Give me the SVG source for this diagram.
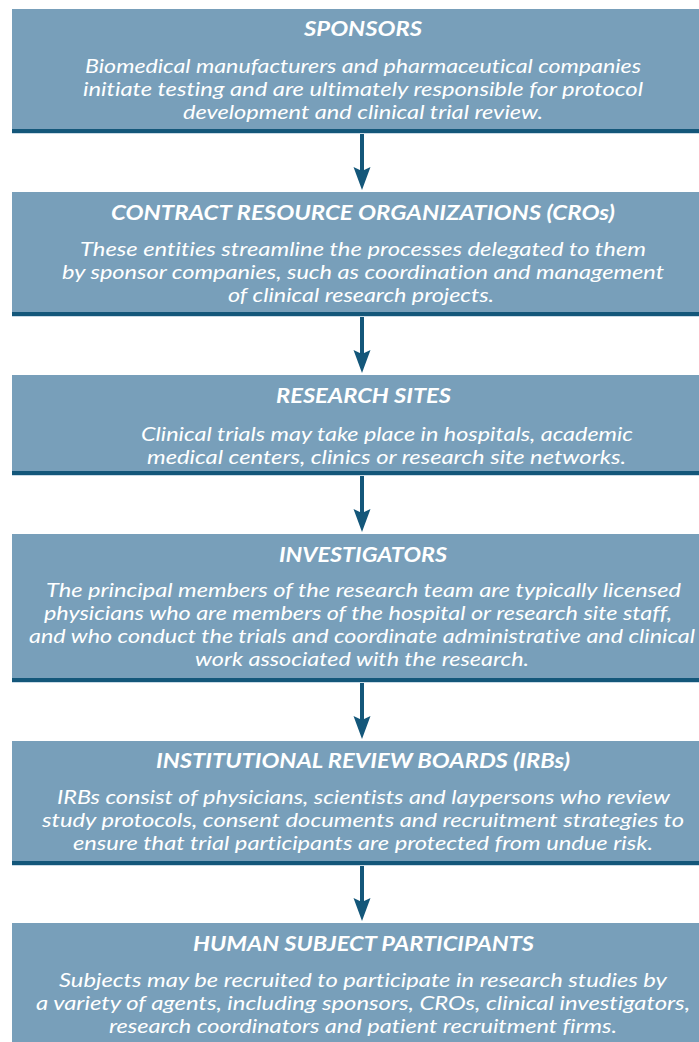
<svg xmlns="http://www.w3.org/2000/svg" width="699" height="1042" viewBox="0 0 699 1042">
  <style>
    .box { fill: #789fba; }
    .rule { fill: #14577a; }
    .edge { fill: #c9dae6; }
    text { fill: #ffffff; font-family: Lato, "Open Sans", "Liberation Sans", sans-serif; font-style: italic; font-variant-ligatures: none; }
    .title { font-size: 20px; font-weight: 700; }
    .body { font-size: 20px; font-weight: 400; }
    .arrow { fill: #14577a; }
  </style>
  <defs>
    <!-- downward arrow with notched head, tip at origin -->
    <path id="arrowHead" d="M0,0 L-8.5,-23 L0,-19 L8.5,-23 Z"/>
  </defs>

  <rect width="699" height="1042" fill="#ffffff"/>

  <g id="sponsors">
    <rect class="box" x="12" y="9" width="702" height="120"/>
    <rect class="rule" x="12" y="129" width="702" height="4"/>
    <rect class="edge" x="12" y="133" width="702" height="1"/>
    <text class="title" x="304" y="36" textLength="118" lengthAdjust="spacingAndGlyphs">SPONSORS</text>
    <text class="body" x="85" y="73" textLength="556" lengthAdjust="spacingAndGlyphs">Biomedical manufacturers and pharmaceutical companies</text>
    <text class="body" x="83" y="96" textLength="560" lengthAdjust="spacingAndGlyphs">initiate testing and are ultimately responsible for protocol</text>
    <text class="body" x="183" y="119" textLength="360" lengthAdjust="spacingAndGlyphs">development and clinical trial review.</text>
  </g>

  <g id="cros">
    <rect class="box" x="12" y="192" width="702" height="120"/>
    <rect class="rule" x="12" y="312" width="702" height="4"/>
    <rect class="edge" x="12" y="316" width="702" height="1"/>
    <text class="title" x="111" y="220" textLength="504" lengthAdjust="spacingAndGlyphs">CONTRACT RESOURCE ORGANIZATIONS (CROs)</text>
    <text class="body" x="80" y="256" textLength="566" lengthAdjust="spacingAndGlyphs">These entities streamline the processes delegated to them</text>
    <text class="body" x="62" y="279" textLength="602" lengthAdjust="spacingAndGlyphs">by sponsor companies, such as coordination and management</text>
    <text class="body" x="228" y="302" textLength="266" lengthAdjust="spacingAndGlyphs">of clinical research projects.</text>
  </g>

  <g id="research-sites">
    <rect class="box" x="12" y="375" width="702" height="96"/>
    <rect class="rule" x="12" y="471" width="702" height="4"/>
    <rect class="edge" x="12" y="475" width="702" height="1"/>
    <text class="title" x="276" y="403" textLength="175" lengthAdjust="spacingAndGlyphs">RESEARCH SITES</text>
    <text class="body" x="141" y="441" textLength="492" lengthAdjust="spacingAndGlyphs">Clinical trials may take place in hospitals, academic</text>
    <text class="body" x="147" y="464" textLength="479" lengthAdjust="spacingAndGlyphs">medical centers, clinics or research site networks.</text>
  </g>

  <g id="investigators">
    <rect class="box" x="12" y="534" width="702" height="144"/>
    <rect class="rule" x="12" y="678" width="702" height="4"/>
    <rect class="edge" x="12" y="682" width="702" height="1"/>
    <text class="title" x="279" y="562" textLength="168" lengthAdjust="spacingAndGlyphs">INVESTIGATORS</text>
    <text class="body" x="46" y="597" textLength="635" lengthAdjust="spacingAndGlyphs">The principal members of the research team are typically licensed</text>
    <text class="body" x="44" y="620" textLength="628" lengthAdjust="spacingAndGlyphs">physicians who are members of the hospital or research site staff,</text>
    <text class="body" x="29" y="643" textLength="666" lengthAdjust="spacingAndGlyphs">and who conduct the trials and coordinate administrative and clinical</text>
    <text class="body" x="195" y="666" textLength="334" lengthAdjust="spacingAndGlyphs">work associated with the research.</text>
  </g>

  <g id="irbs">
    <rect class="box" x="12" y="741" width="702" height="120"/>
    <rect class="rule" x="12" y="861" width="702" height="4"/>
    <rect class="edge" x="12" y="865" width="702" height="1"/>
    <text class="title" x="156" y="768" textLength="414" lengthAdjust="spacingAndGlyphs">INSTITUTIONAL REVIEW BOARDS (IRBs)</text>
    <text class="body" x="57" y="804" textLength="613" lengthAdjust="spacingAndGlyphs">IRBs consist of physicians, scientists and laypersons who review</text>
    <text class="body" x="42" y="827" textLength="642" lengthAdjust="spacingAndGlyphs">study protocols, consent documents and recruitment strategies to</text>
    <text class="body" x="73" y="850" textLength="580" lengthAdjust="spacingAndGlyphs">ensure that trial participants are protected from undue risk.</text>
  </g>

  <g id="participants">
    <rect class="box" x="12" y="923" width="702" height="125"/>
    <text class="title" x="193" y="951" textLength="341" lengthAdjust="spacingAndGlyphs">HUMAN SUBJECT PARTICIPANTS</text>
    <text class="body" x="59" y="987" textLength="608" lengthAdjust="spacingAndGlyphs">Subjects may be recruited to participate in research studies by</text>
    <text class="body" x="36" y="1010" textLength="654" lengthAdjust="spacingAndGlyphs">a variety of agents, including sponsors, CROs, clinical investigators,</text>
    <text class="body" x="109" y="1033" textLength="508" lengthAdjust="spacingAndGlyphs">research coordinators and patient recruitment firms.</text>
  </g>

  <g id="connectors" class="arrow">
    <rect x="360" y="134" width="4" height="38"/>
    <use href="#arrowHead" x="362" y="190"/>
    <rect x="360" y="317" width="4" height="38"/>
    <use href="#arrowHead" x="362" y="373"/>
    <rect x="360" y="476" width="4" height="38"/>
    <use href="#arrowHead" x="362" y="532"/>
    <rect x="360" y="683" width="4" height="38"/>
    <use href="#arrowHead" x="362" y="739"/>
    <rect x="360" y="866" width="4" height="38"/>
    <use href="#arrowHead" x="362" y="921"/>
  </g>
</svg>
